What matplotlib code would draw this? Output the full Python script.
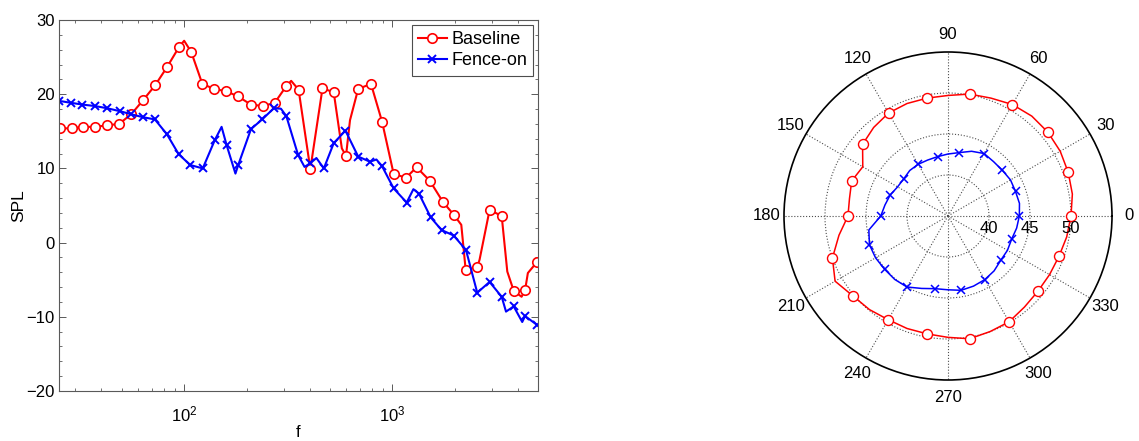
import numpy as np
import matplotlib
matplotlib.use("Agg")
import matplotlib.pyplot as plt
from matplotlib.lines import Line2D
from matplotlib.ticker import FixedLocator, MultipleLocator, NullFormatter
from matplotlib.transforms import offset_copy

plt.rcParams['font.family'] = ['Liberation Sans', 'DejaVu Sans']
plt.rcParams['font.size'] = 12

# --- spectrum (left) ---
# frequency, SPL, marker flag (1 = marker drawn at this point)
f_base = [25.3, 28.9, 32.5, 37.3, 42.5, 48.6, 55.6, 63.4, 72.4, 82.8, 94.5, 99.8,
          107.9, 122, 139, 159, 181, 209, 239, 272, 309, 326, 354, 403, 461, 522,
          571, 598, 625, 684, 788, 891, 1013, 1161, 1306, 1509, 1746, 1976, 2140,
          2247, 2553, 2620, 2927, 3346, 3560, 3822, 4170, 4334, 4470, 4950]
spl_base = [15.4, 15.4, 15.6, 15.6, 15.8, 16.0, 17.3, 19.2, 21.2, 23.7, 26.4, 27.2,
            25.7, 21.4, 20.7, 20.4, 19.7, 18.6, 18.4, 18.85, 21.1, 21.8, 20.6, 9.9, 20.8, 20.25,
            12.7, 11.7, 16.5, 20.7, 21.4, 16.3, 9.25, 8.75, 10.15, 8.35, 5.5, 3.7, 2.4,
            -3.7, -3.3, -2.3, 4.4, 3.6, -3.9, -6.5, -7.3, -6.4, -4.1, -2.6]
mk_base = [1, 1, 1, 1, 1, 1, 1, 1, 1, 1, 1, 0,
           1, 1, 1, 1, 1, 1, 1, 1, 1, 0, 1, 1, 1, 1,
           0, 1, 0, 1, 1, 1, 1, 1, 1, 1, 1, 1, 0,
           1, 1, 0, 1, 1, 0, 1, 0, 1, 0, 1]

f_fence = [25, 28.4, 32.4, 37.3, 42.7, 49.2, 55.5, 63.3, 72.2, 82.5, 94, 106.9,
           122.6, 140, 151, 159.6, 176, 181.5, 209, 236.5, 269, 291, 309, 352, 378,
           403, 431, 468, 522, 594, 684, 779, 837, 891, 1013, 1170, 1260, 1340,
           1526, 1720, 1968, 2255, 2553, 2927, 3346, 3510, 3822, 4200, 4334, 4950]
spl_fence = [19.1, 18.85, 18.6, 18.4, 18.1, 17.7, 17.3, 16.9, 16.6, 14.6, 11.9, 10.45,
             10.0, 13.8, 15.6, 13.15, 9.3, 10.45, 15.3, 16.6, 18.1, 18.05, 17.05, 11.8, 10.2,
             10.7, 11.4, 10.0, 13.4, 15.1, 11.6, 10.9, 11.2, 10.3, 7.3, 5.4, 7.2, 6.6,
             3.4, 1.7, 0.95, -1.0, -6.75, -5.3, -7.3, -9.3, -8.6, -10.7, -9.9, -11.1]
mk_fence = [1, 1, 1, 1, 1, 1, 1, 1, 1, 1, 1, 1,
            1, 1, 0, 1, 0, 1, 1, 1, 1, 0, 1, 1, 0,
            1, 0, 1, 1, 1, 1, 1, 0, 1, 1, 1, 0, 1,
            1, 1, 1, 1, 1, 1, 1, 0, 1, 0, 1, 1]

# --- directivity (right) ---
theta_deg = list(range(0, 361, 10))
r_base = [50.0, 50.4, 50.6, 50.8, 50.9, 50.9, 50.7, 50.3, 50.1, 49.7, 49.6, 49.6,
          49.5, 49.1, 48.6, 47.0, 47.5, 47.2, 47.2, 48.5, 50.0, 50.9, 50.15, 49.9,
          49.6, 49.6, 49.6, 49.8, 50.2, 50.0, 49.9, 49.5, 49.3, 49.3, 49.4, 49.7, 50.0]
r_fence = [43.7, 43.85, 43.76, 43.8, 43.66, 43.65, 43.8, 43.4, 42.85, 42.56, 42.35, 42.26,
           42.28, 42.25, 42.05, 42.1, 42.5, 42.8, 43.2, 44.8, 45.2, 45.2, 45.1, 45.1,
           45.0, 44.4, 44.0, 44.0, 44.2, 44.1, 43.96, 43.74, 43.4, 43.37, 43.26, 43.5, 43.7]
polar_mk_every = 2

red = '#ff0000'
blue = '#0000ff'

fig = plt.figure(figsize=(11.39, 4.41), dpi=100)

ax = fig.add_axes([59/1139, 50/441, 479/1139, 371/441])
fb, sb, mb = np.array(f_base), np.array(spl_base), np.array(mk_base, bool)
ff, sf, mf = np.array(f_fence), np.array(spl_fence), np.array(mk_fence, bool)
ax.plot(fb, sb, '-', color=red, lw=1.5)
ax.plot(fb[mb], sb[mb], 'o', ls='none', mec=red, mfc='white', ms=6.8, mew=1.2)
ax.plot(ff, sf, '-', color=blue, lw=1.5)
ax.plot(ff[mf], sf[mf], 'x', ls='none', mec=blue, ms=6, mew=1.4)

ax.set_xscale('log')
ax.set_xlim(25, 5000)
ax.set_ylim(-20, 30)
ax.xaxis.set_major_locator(FixedLocator([100, 1000]))
ax.xaxis.set_minor_formatter(NullFormatter())
ax.yaxis.set_major_locator(MultipleLocator(10))
ax.yaxis.set_minor_locator(MultipleLocator(2))
ax.tick_params(which='both', direction='in', top=True, right=True, color='0.35')
ax.tick_params(which='major', length=5, width=0.7)
ax.tick_params(which='minor', length=2.5, width=0.6)
ax.tick_params(axis='x', pad=10)
ax.tick_params(axis='y', pad=3)
for s in ax.spines.values():
    s.set_color('0.35')
    s.set_linewidth(0.8)
ax.set_xlabel('f', labelpad=0)
ax.set_ylabel('SPL', labelpad=0, fontsize=12.5)

handles = [Line2D([], [], color=red, lw=1.5, marker='o', mfc='white', mec=red, ms=6.8, mew=1.2),
           Line2D([], [], color=blue, lw=1.5, marker='x', mec=blue, ms=6, mew=1.4)]
leg = ax.legend(handles, ['Baseline', 'Fence-on'], loc='upper right', fancybox=False,
                framealpha=1, edgecolor='0.3', borderaxespad=0.25, handlelength=1.6,
                handletextpad=0.25, borderpad=0.35, labelspacing=0.25, fontsize=13)
leg.get_frame().set_linewidth(0.8)

# polar
pax = fig.add_axes([784/1139, 61/441, 328/1139, 328/441], projection='polar')
th = np.deg2rad(theta_deg)
pax.plot(th, r_base, '-', color=red, lw=1.1)
pax.plot(th[:-1:polar_mk_every], np.array(r_base)[:-1:polar_mk_every], 'o', ls='none',
         mec=red, mfc='white', ms=7.2, mew=1.0)
pax.plot(th, r_fence, '-', color=blue, lw=1.1)
pax.plot(th[:-1:polar_mk_every], np.array(r_fence)[:-1:polar_mk_every], 'x', ls='none',
         mec=blue, ms=6, mew=1.1)
pax.set_rlim(35, 55)
pax.set_rticks([40, 45, 50])
pax.set_yticklabels([])
angs = list(range(0, 360, 30))
pax.set_thetagrids(angs, [str(a) for a in angs])
pax.tick_params(axis='x', pad=2)
pax.grid(True, color='0.3', ls=':', lw=0.8)
pax.spines['polar'].set_color('black')
pax.spines['polar'].set_linewidth(1.2)
tr = offset_copy(pax.transData, fig=fig, x=0, y=-13, units='dots')
for rv in [40, 45, 50]:
    pax.text(0, rv, str(rv), transform=tr, ha='center', va='center', fontsize=12)

fig.savefig('out.png', dpi=100)
